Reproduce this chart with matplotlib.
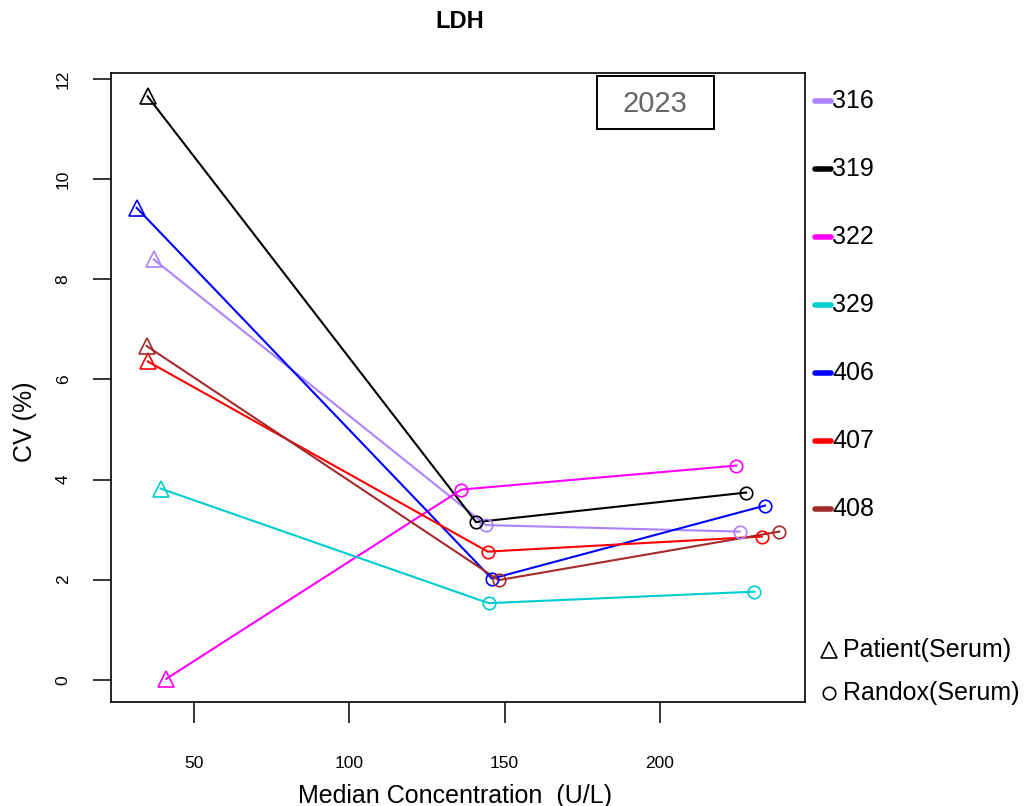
import numpy as np
import matplotlib
matplotlib.use('Agg')
import matplotlib.pyplot as plt
from matplotlib.lines import Line2D
from matplotlib.patches import Rectangle

plt.rcParams['font.family'] = ['Liberation Sans', 'DejaVu Sans']

labs = ['316', '319', '322', '329', '406', '407', '408']
cols = ['#AB82FF', 'black', 'magenta', '#00CDCD', 'blue', 'red', '#A52A2A']

# patient (serum) - triangles
pat_x = [36.9, 34.9, 41.0, 39.1, 31.4, 35.0, 34.6]
pat_y = [8.40, 11.66, 0.02, 3.82, 9.43, 6.36, 6.67]
# randox (serum) level 1 / level 2 - circles
rl_x = [144.0, 140.8, 136.1, 144.9, 145.9, 144.6, 148.1]
rl_y = [3.09, 3.15, 3.80, 1.53, 2.02, 2.56, 1.99]
rh_x = [225.8, 227.9, 224.8, 230.6, 234.0, 233.0, 238.6]
rh_y = [2.96, 3.74, 4.28, 1.76, 3.48, 2.86, 2.96]

W, H = 1025, 806
fig = plt.figure(figsize=(W/100, H/100), dpi=100)
ax = fig.add_axes([111/W, 1-702/H, (805-111)/W, (702-73)/H])

for i in range(len(labs)):
    c = cols[i]
    ax.plot([pat_x[i], rl_x[i], rh_x[i]], [pat_y[i], rl_y[i], rh_y[i]], color=c, lw=1.5, zorder=2)
    ax.plot(pat_x[i], pat_y[i], marker='^', ms=11, mfc='none', mec=c, mew=1.2, ls='none', zorder=3)
    ax.plot([rl_x[i], rh_x[i]], [rl_y[i], rh_y[i]], marker='o', ms=9, mfc='none', mec=c, mew=1.2, ls='none', zorder=3)

# R style: 4% padding on each side
allx = pat_x + rl_x + rh_x
ally = pat_y + rl_y + rh_y
dx = (max(allx) - min(allx)) * 0.04
dy = (max(ally) - min(ally)) * 0.04
ax.set_xlim(min(allx) - dx, max(allx) + dx)
ax.set_ylim(min(ally) - dy, max(ally) + dy)

ax.set_xticks([50, 100, 150, 200])
ax.set_yticks([0, 2, 4, 6, 8, 10, 12])
ax.tick_params(axis='x', length=15, width=1.1, pad=24, labelsize=12.5)
ax.tick_params(axis='y', length=13, width=1.1, pad=16, labelsize=12.5, labelrotation=90)
for lab in ax.get_yticklabels():
    lab.set_va('center')
for s in ax.spines.values():
    s.set_linewidth(1.2)

fig.text(460/W, 1-22/H, 'LDH', ha='center', va='center', fontsize=17, fontweight='bold')
fig.text(455/W, 1-796/H, 'Median Concentration  (U/L)', ha='center', va='center', fontsize=18)
fig.text(25/W, 1-422/H, 'CV (%)', ha='center', va='center', fontsize=18, rotation=90)

# "2023" box
fig.add_artist(Rectangle((597/W, 1-129/H), 117/W, 53/H, fill=False, ec='black', lw=1.4))
fig.text(655/W, 1-104/H, '2023', ha='center', va='center', fontsize=21, color='#666666')

# legend outside the axes
for i in range(len(labs)):
    yy = 1 - (101 + 68*i)/H
    fig.add_artist(Line2D([815/W, 831/W], [yy, yy], color=cols[i], lw=4, solid_capstyle='round'))
    fig.text(832/W, yy, labs[i], ha='left', va='center', fontsize=18)

fig.add_artist(Line2D([829/W], [1-650/H], marker='^', ms=12, mfc='none', mec='black', mew=1.2, ls='none'))
fig.text(843/W, 1-650/H, 'Patient(Serum)', ha='left', va='center', fontsize=18)
fig.add_artist(Line2D([829/W], [1-693/H], marker='o', ms=9, mfc='none', mec='black', mew=1.2, ls='none'))
fig.text(843/W, 1-693/H, 'Randox(Serum)', ha='left', va='center', fontsize=18)

fig.savefig('out.png', dpi=100)
